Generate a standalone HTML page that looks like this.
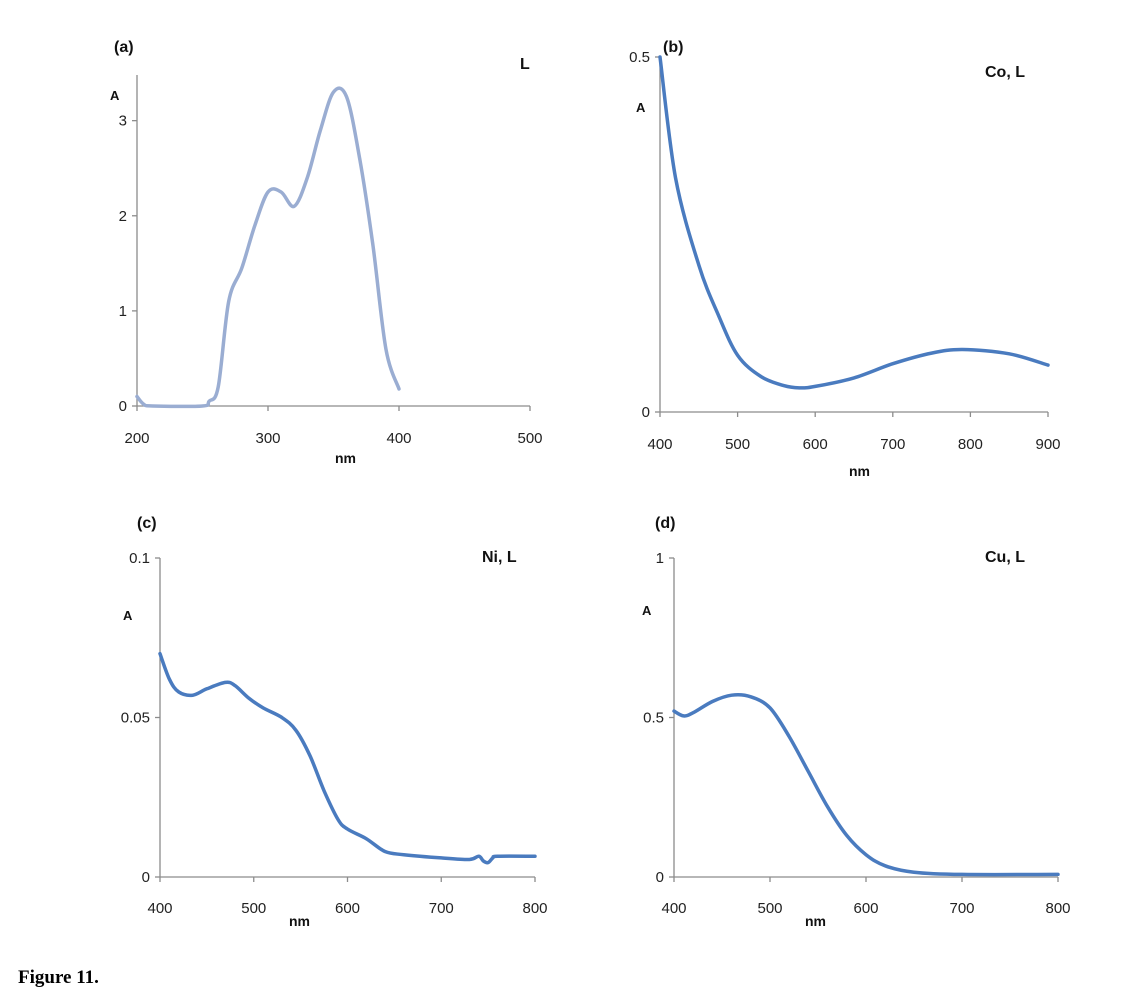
<!DOCTYPE html>
<html><head><meta charset="utf-8"><style>
body{margin:0;background:#fff;width:1147px;height:1000px;overflow:hidden}
svg{font-family:"Liberation Sans",sans-serif}
</style></head><body>
<svg id="s" width="1147" height="1000">
<text x="18" y="983" font-family="Liberation Serif" font-weight="bold" font-size="19">Figure 11.</text>
</svg>
<script>
const aX=[200,205,212,250,255,262,270,280,290,300,310,320,330,340,350,360,370,380,390,400];
const aY=[0.1,0.02,0,0,0.05,0.2,1.1,1.45,1.9,2.25,2.25,2.1,2.4,2.9,3.3,3.25,2.6,1.7,0.6,0.18];
const bX=[400,420,450,475,500,530,560,580,600,650,700,750,790,850,900];
const bY=[0.5,0.33,0.207,0.137,0.08,0.05,0.037,0.034,0.036,0.048,0.068,0.083,0.088,0.082,0.066];
const cX=[400,410,420,435,450,470,480,495,510,530,545,560,575,590,600,620,640,660,700,730,740,745,750,755,760,800];
const cY=[0.07,0.062,0.058,0.057,0.059,0.061,0.06,0.056,0.053,0.05,0.046,0.038,0.027,0.018,0.015,0.012,0.008,0.007,0.006,0.0055,0.0065,0.005,0.0045,0.006,0.0065,0.0065];
const dX=[400,410,420,440,460,480,500,520,540,560,580,600,620,650,700,800];
const dY=[0.52,0.505,0.515,0.55,0.57,0.565,0.53,0.44,0.33,0.22,0.13,0.07,0.035,0.015,0.008,0.008];
const NS="http://www.w3.org/2000/svg",S=document.getElementById('s');
function el(t,a,txt){const e=document.createElementNS(NS,t);for(const k in a)e.setAttribute(k,a[k]);if(txt!==undefined)e.textContent=txt;S.appendChild(e);return e;}
function smooth(pts){
 let d='M'+pts[0][0].toFixed(1)+','+pts[0][1].toFixed(1);
 for(let i=0;i<pts.length-1;i++){
  const p0=pts[Math.max(0,i-1)],p1=pts[i],p2=pts[i+1],p3=pts[Math.min(pts.length-1,i+2)];
  const c1=[p1[0]+(p2[0]-p0[0])/6,p1[1]+(p2[1]-p0[1])/6];
  const c2=[p2[0]-(p3[0]-p1[0])/6,p2[1]-(p3[1]-p1[1])/6];
  d+=' C'+c1[0].toFixed(1)+','+c1[1].toFixed(1)+' '+c2[0].toFixed(1)+','+c2[1].toFixed(1)+' '+p2[0].toFixed(1)+','+p2[1].toFixed(1);
 }
 return d;
}
const panels=[
{id:'a',xs:aX,ys:aY,x0:137,x1:530,xmin:200,xmax:500,xt:[200,300,400,500],y0:406,y1:75,ymin:0,ymax:3.48,yt:[0,1,2,3],yl:['0','1','2','3'],col:'#9aadd2',lab:[114,52],title:'L',tp:[520,69],A:[110,100],nm:[335,463],tly:443},
{id:'b',xs:bX,ys:bY,x0:660,x1:1048,xmin:400,xmax:900,xt:[400,500,600,700,800,900],y0:412,y1:57,ymin:0,ymax:0.5,yt:[0,0.5],yl:['0','0.5'],col:'#4a7bbf',lab:[663,52],title:'Co, L',tp:[985,77],A:[636,112],nm:[849,476],tly:449},
{id:'c',xs:cX,ys:cY,x0:160,x1:535,xmin:400,xmax:800,xt:[400,500,600,700,800],y0:877,y1:558,ymin:0,ymax:0.1,yt:[0,0.05,0.1],yl:['0','0.05','0.1'],col:'#4a7bbf',lab:[137,528],title:'Ni, L',tp:[482,562],A:[123,620],nm:[289,926],tly:913},
{id:'d',xs:dX,ys:dY,x0:674,x1:1058,xmin:400,xmax:800,xt:[400,500,600,700,800],y0:877,y1:558,ymin:0,ymax:1,yt:[0,0.5,1],yl:['0','0.5','1'],col:'#4a7bbf',lab:[655,528],title:'Cu, L',tp:[985,562],A:[642,615],nm:[805,926],tly:913}];
panels.forEach(p=>{
 const sx=v=>p.x0+(v-p.xmin)/(p.xmax-p.xmin)*(p.x1-p.x0);
 const sy=v=>p.y0-(v-p.ymin)/(p.ymax-p.ymin)*(p.y0-p.y1);
 let e=el('line',{x1:p.x0,y1:p.y0,x2:p.x1,y2:p.y0,stroke:'#8c8c8c','stroke-width':1.3});
 
 
 e=el('line',{x1:p.x0,y1:p.y0,x2:p.x0,y2:p.y1,stroke:'#8c8c8c','stroke-width':1.3});
 
 
 p.xt.forEach(v=>{
  el('line',{x1:sx(v),y1:p.y0,x2:sx(v),y2:p.y0+5,stroke:'#8c8c8c','stroke-width':1.3});
  e=el('text',{x:sx(v),y:p.tly,'text-anchor':'middle','font-size':15,fill:'#222'},String(v));
  
  
 });
 p.yt.forEach((v,i)=>{
  el('line',{x1:p.x0-5,y1:sy(v),x2:p.x0,y2:sy(v),stroke:'#8c8c8c','stroke-width':1.3});
  e=el('text',{x:p.x0-10,y:sy(v)+5,'text-anchor':'end','font-size':15,fill:'#222'},p.yl[i]);
  
  
 });
 const pts=p.xs.map((x,i)=>[sx(x),sy(p.ys[i])]);
 e=el('path',{d:smooth(pts),fill:'none',stroke:p.col,'stroke-width':3.5,'stroke-linejoin':'round','stroke-linecap':'round'});
 
 
 e=el('text',{x:p.lab[0],y:p.lab[1],'font-size':16,'font-weight':'bold',fill:'#111'},'('+p.id+')');
 
 
 e=el('text',{x:p.tp[0],y:p.tp[1],'font-size':16,'font-weight':'bold',fill:'#111'},p.title);
 
 
 e=el('text',{x:p.A[0],y:p.A[1],'font-size':13,'font-weight':'bold',fill:'#111'},'A');
 
 
 e=el('text',{x:p.nm[0],y:p.nm[1],'font-size':14,'font-weight':'bold',fill:'#111'},'nm');
 
 
});
</script>
</body></html>
